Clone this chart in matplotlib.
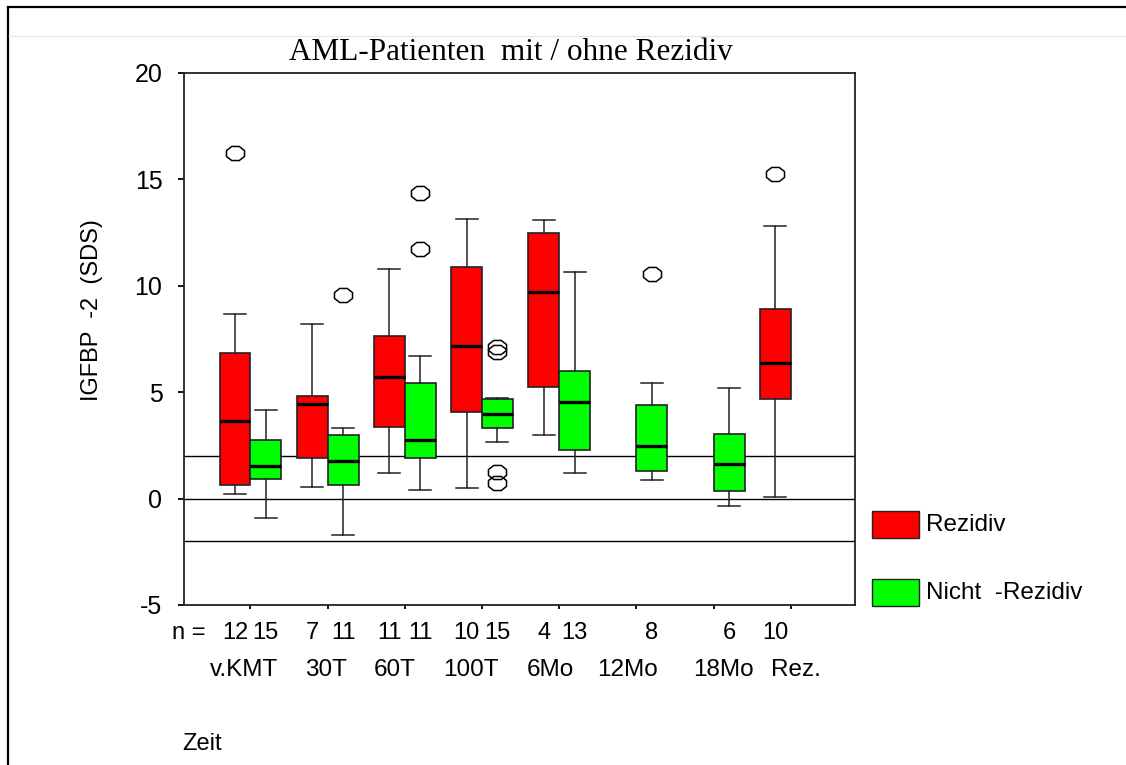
import matplotlib
matplotlib.use("Agg")
import matplotlib.pyplot as plt
import matplotlib.transforms as mtransforms
from matplotlib.path import Path
from matplotlib.lines import Line2D
import numpy as np

plt.rcParams["axes.unicode_minus"] = False

# time points
zeit = ["v.KMT", "30T", "60T", "100T", "6Mo", "12Mo", "18Mo", "Rez."]

# Rezidiv (red) - None where no box
red_n = [12, 7, 11, 10, 4, None, None, 10]
red_lo = [0.22, 0.56, 1.20, 0.48, 2.99, None, None, 0.09]
red_q1 = [0.62, 1.92, 3.36, 4.08, 5.26, None, None, 4.70]
red_med = [3.65, 4.45, 5.70, 7.17, 9.72, None, None, 6.37]
red_q3 = [6.86, 4.84, 7.63, 10.90, 12.48, None, None, 8.92]
red_hi = [8.67, 8.19, 10.79, 13.14, 13.09, None, None, 12.82]
red_out = [[16.25], [], [], [], [], None, None, [15.25]]

# Nicht-Rezidiv (green)
green_n = [15, 11, 11, 15, 13, 8, 6, None]
green_lo = [-0.91, -1.70, 0.40, 2.66, 1.20, 0.87, -0.33, None]
green_q1 = [0.90, 0.62, 1.92, 3.30, 2.30, 1.30, 0.36, None]
green_med = [1.52, 1.77, 2.75, 3.98, 4.52, 2.46, 1.64, None]
green_q3 = [2.75, 2.99, 5.45, 4.68, 6.01, 4.38, 3.05, None]
green_hi = [4.16, 3.33, 6.69, 4.74, 10.65, 5.45, 5.21, None]
green_out = [[], [9.55], [14.37, 11.71], [7.12, 6.88, 1.24, 0.75], [], [10.54], [], None]

ref_lines = [2, 0, -2]

# label nudges (x units) for the time labels under the axis
label_shift = [-0.08, -0.02, -0.13, -0.14, -0.12, -0.12, 0.13, 0.06]


def make_stats(lo, q1, med, q3, hi, out):
    stats, idx = [], []
    for i in range(len(lo)):
        if lo[i] is None:
            continue
        stats.append(dict(whislo=lo[i], q1=q1[i], med=med[i], q3=q3[i],
                          whishi=hi[i], fliers=out[i]))
        idx.append(i)
    return stats, idx


# octagon-like ellipse marker used by SPSS
ang = np.linspace(0, 2 * np.pi, 9)[:-1] + np.pi / 8
octo = Path(np.column_stack([np.cos(ang), 0.78 * np.sin(ang)]).tolist() + [[0, 0]],
            [Path.MOVETO] + [Path.LINETO] * 7 + [Path.CLOSEPOLY])

fig = plt.figure(figsize=(11.26, 7.65), dpi=100)
ax = fig.add_axes([184 / 1126, 1 - 605 / 765, (855 - 184) / 1126, (605 - 73) / 765])

for lo, q1, med, q3, hi, out, col, off in [
        (red_lo, red_q1, red_med, red_q3, red_hi, red_out, "#ff0000", -0.2),
        (green_lo, green_q1, green_med, green_q3, green_hi, green_out, "#00ff00", 0.2)]:
    stats, idx = make_stats(lo, q1, med, q3, hi, out)
    ax.bxp(stats, positions=[i + off for i in idx], widths=0.4, capwidths=0.285,
           patch_artist=True, manage_ticks=False,
           boxprops=dict(facecolor=col, edgecolor="#222222", linewidth=1.2),
           medianprops=dict(color="black", linewidth=2.4),
           whiskerprops=dict(color="#222222", linewidth=1.1),
           capprops=dict(color="#222222", linewidth=1.1),
           flierprops=dict(marker=octo, markersize=13, markerfacecolor="none",
                           markeredgecolor="black", markeredgewidth=1.1))

for r in ref_lines:
    ax.axhline(r, color="black", linewidth=1.0, zorder=1)

ax.set_xlim(-0.86, 7.83)
ax.set_ylim(-5, 20)
ax.set_yticks([20, 15, 10, 5, 0, -5])
ax.set_xticks(range(len(zeit)))
ax.set_xticklabels([])
ax.tick_params(axis="y", direction="out", length=4.5, width=1.3, pad=11,
               labelsize=18, labelfontfamily="Liberation Sans")
ax.tick_params(axis="x", direction="out", length=3, width=1.3)
for s in ax.spines.values():
    s.set_linewidth(1.3)
    s.set_color("#222222")

font = "Liberation Sans"
trans = mtransforms.blended_transform_factory(ax.transData, fig.transFigure)
ny = 1 - 633 / 765
for i in range(len(zeit)):
    if red_n[i] is not None:
        ax.text(i - 0.2, ny, str(red_n[i]), transform=trans, ha="center", va="center",
                fontsize=17, family=font)
    if green_n[i] is not None:
        ax.text(i + 0.2, ny, str(green_n[i]), transform=trans, ha="center", va="center",
                fontsize=17, family=font)
    ax.text(i + label_shift[i], 1 - 670 / 765, zeit[i], transform=trans, ha="center",
            va="center", fontsize=17.5, family=font)
fig.text(205 / 1126, ny, "n =", ha="right", va="center", fontsize=17, family=font)
fig.text(182 / 1126, 1 - 744 / 765, "Zeit", ha="left", va="center", fontsize=17, family=font)

fig.text(511 / 1126, 1 - 52 / 765, "AML-Patienten  mit / ohne Rezidiv", ha="center",
         va="center", fontsize=22.5, family="Liberation Serif")
fig.text(92 / 1126, 1 - 310 / 765, "IGFBP  -2  (SDS)", rotation=90, ha="center",
         va="center", fontsize=17, family="Liberation Sans")

# legend
for y0, col, lab in [(511, "#ff0000", "Rezidiv"), (579, "#00ff00", "Nicht  -Rezidiv")]:
    fig.patches.append(plt.Rectangle((872 / 1126, 1 - (y0 + 27) / 765), 47 / 1126, 27 / 765,
                                     transform=fig.transFigure, facecolor=col,
                                     edgecolor="#222222", linewidth=1.0))
    fig.text(926 / 1126, 1 - (y0 + 14) / 765, lab, ha="left", va="center",
             fontsize=17.5, family="Liberation Sans")

# outer frame of the SPSS output page
fig.add_artist(Line2D([8 / 1126, 1], [1 - 7 / 765, 1 - 7 / 765], color="black", linewidth=1.6))
fig.add_artist(Line2D([8 / 1126, 8 / 1126], [0, 1 - 7 / 765], color="black", linewidth=1.6))
fig.add_artist(Line2D([9 / 1126, 1], [1 - 36 / 765, 1 - 36 / 765], color="#e6e6e6", linewidth=1.0))

fig.savefig("out.png", dpi=100)
